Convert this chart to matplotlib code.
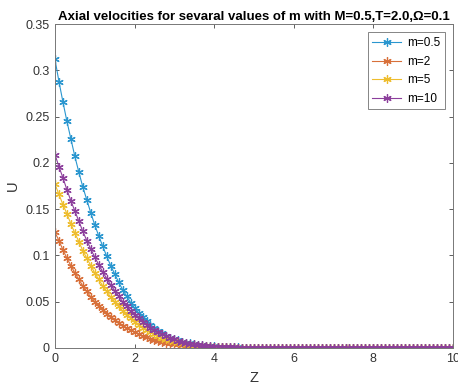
import numpy as np
import matplotlib.pyplot as plt

plt.rcParams['font.family'] = ['Liberation Sans', 'DejaVu Sans']

# axial distance Z, step 0.1
z = np.linspace(0, 10, 101)

u_m05 = [0.312, 0.288, 0.266, 0.245, 0.226, 0.207, 0.190, 0.174, 0.160, 0.146,
         0.133, 0.121, 0.110, 0.099, 0.089, 0.080, 0.071, 0.063, 0.056, 0.049,
         0.043, 0.038, 0.033, 0.029, 0.025, 0.021, 0.018, 0.016, 0.013, 0.011,
         0.0095, 0.0080, 0.0068, 0.0057, 0.0048, 0.0040, 0.0034, 0.0028, 0.0023, 0.0019,
         0.0016, 0.0013, 0.0011, 0.0009, 0.0007, 0.0006, 0.0005, 0.0004, 0.0003, 0.0003,
         0.0002, 0.0002, 0.0002, 0.0001, 0.0001, 0.0001, 0.0001, 0.0001, 0, 0,
         0, 0, 0, 0, 0, 0, 0, 0, 0, 0,
         0, 0, 0, 0, 0, 0, 0, 0, 0, 0,
         0, 0, 0, 0, 0, 0, 0, 0, 0, 0,
         0, 0, 0, 0, 0, 0, 0, 0, 0, 0,
         0]

u_m2 = [0.125, 0.116, 0.106, 0.097, 0.089, 0.081, 0.074, 0.067, 0.061, 0.055,
        0.050, 0.045, 0.041, 0.037, 0.033, 0.030, 0.027, 0.024, 0.021, 0.019,
        0.017, 0.015, 0.013, 0.0115, 0.010, 0.0088, 0.0077, 0.0067, 0.0058, 0.0050,
        0.0043, 0.0037, 0.0032, 0.0027, 0.0023, 0.0020, 0.0017, 0.0014, 0.0012, 0.0010,
        0.0008, 0.0007, 0.0006, 0.0005, 0.0004, 0.0003, 0.0003, 0.0002, 0.0002, 0.0001,
        0.0001, 0.0001, 0.0001, 0, 0, 0, 0, 0, 0, 0,
        0, 0, 0, 0, 0, 0, 0, 0, 0, 0,
        0, 0, 0, 0, 0, 0, 0, 0, 0, 0,
        0, 0, 0, 0, 0, 0, 0, 0, 0, 0,
        0, 0, 0, 0, 0, 0, 0, 0, 0, 0,
        0]

u_m5 = [0.177, 0.166, 0.155, 0.145, 0.134, 0.124, 0.115, 0.105, 0.097, 0.089,
        0.081, 0.074, 0.067, 0.061, 0.055, 0.050, 0.045, 0.040, 0.036, 0.032,
        0.028, 0.025, 0.022, 0.019, 0.017, 0.015, 0.013, 0.011, 0.0095, 0.0082,
        0.0070, 0.0060, 0.0051, 0.0043, 0.0036, 0.0030, 0.0025, 0.0021, 0.0017, 0.0014,
        0.0012, 0.0010, 0.0008, 0.0007, 0.0006, 0.0005, 0.0004, 0.0003, 0.0003, 0.0002,
        0.0002, 0.0001, 0.0001, 0.0001, 0, 0, 0, 0, 0, 0,
        0, 0, 0, 0, 0, 0, 0, 0, 0, 0,
        0, 0, 0, 0, 0, 0, 0, 0, 0, 0,
        0, 0, 0, 0, 0, 0, 0, 0, 0, 0,
        0, 0, 0, 0, 0, 0, 0, 0, 0, 0,
        0]

u_m10 = [0.209, 0.196, 0.184, 0.171, 0.159, 0.148, 0.137, 0.126, 0.116, 0.107,
         0.098, 0.090, 0.082, 0.075, 0.068, 0.062, 0.056, 0.050, 0.045, 0.040,
         0.036, 0.032, 0.028, 0.025, 0.022, 0.019, 0.017, 0.015, 0.013, 0.011,
         0.0092, 0.0078, 0.0066, 0.0055, 0.0046, 0.0038, 0.0032, 0.0026, 0.0021, 0.0017,
         0.0014, 0.0011, 0.0009, 0.0007, 0.0006, 0.0005, 0.0004, 0.0003, 0.0003, 0.0002,
         0.0002, 0.0002, 0.0001, 0.0001, 0.0001, 0, 0, 0, 0, 0,
         0, 0, 0, 0, 0, 0, 0, 0, 0, 0,
         0, 0, 0, 0, 0, 0, 0, 0, 0, 0,
         0, 0, 0, 0, 0, 0, 0, 0, 0, 0,
         0, 0, 0, 0, 0, 0, 0, 0, 0, 0,
         0]

labels = ['m=0.5', 'm=2', 'm=5', 'm=10']
colors = ['#2a96cf', '#d8703a', '#eebd2e', '#8c3f9c']

fig = plt.figure(figsize=(4.58, 3.9), dpi=100)
ax = fig.add_axes([0.120, 0.108, 0.869, 0.830])

for u, lab, c in zip([u_m05, u_m2, u_m5, u_m10], labels, colors):
    ax.plot(z, u, color=c, marker=(6, 2, 0), markersize=6, linewidth=0.8,
            markeredgewidth=0.9, label=lab)

ax.set_xlim(0, 10)
ax.set_ylim(0, 0.35)
ax.set_xticks([0, 2, 4, 6, 8, 10])
ax.set_yticks([0, 0.05, 0.1, 0.15, 0.2, 0.25, 0.3, 0.35])
ax.set_yticklabels(['0', '0.05', '0.1', '0.15', '0.2', '0.25', '0.3', '0.35'])

ax.tick_params(direction='in', top=True, right=True, length=3, width=0.6,
               labelsize=9, colors='#444444', labelcolor='#333333', pad=4)
for s in ax.spines.values():
    s.set_color('#777777')
    s.set_linewidth(0.7)

ax.set_xlabel('Z', fontsize=10.5, color='#333333')
ax.set_ylabel('U', fontsize=10.5, color='#333333')
ax.set_title('Axial velocities for sevaral values of m with M=0.5,T=2.0,\u03a9=0.1',
             fontsize=9.5, fontweight='bold', pad=3)

leg = ax.legend(loc='upper right', fontsize=8.5, frameon=True, fancybox=False,
                edgecolor='#666666', handlelength=2.4, borderpad=0.4,
                labelspacing=0.55, handletextpad=0.5, borderaxespad=0.7)
leg.get_frame().set_linewidth(0.7)

fig.savefig('out.png', dpi=100)
